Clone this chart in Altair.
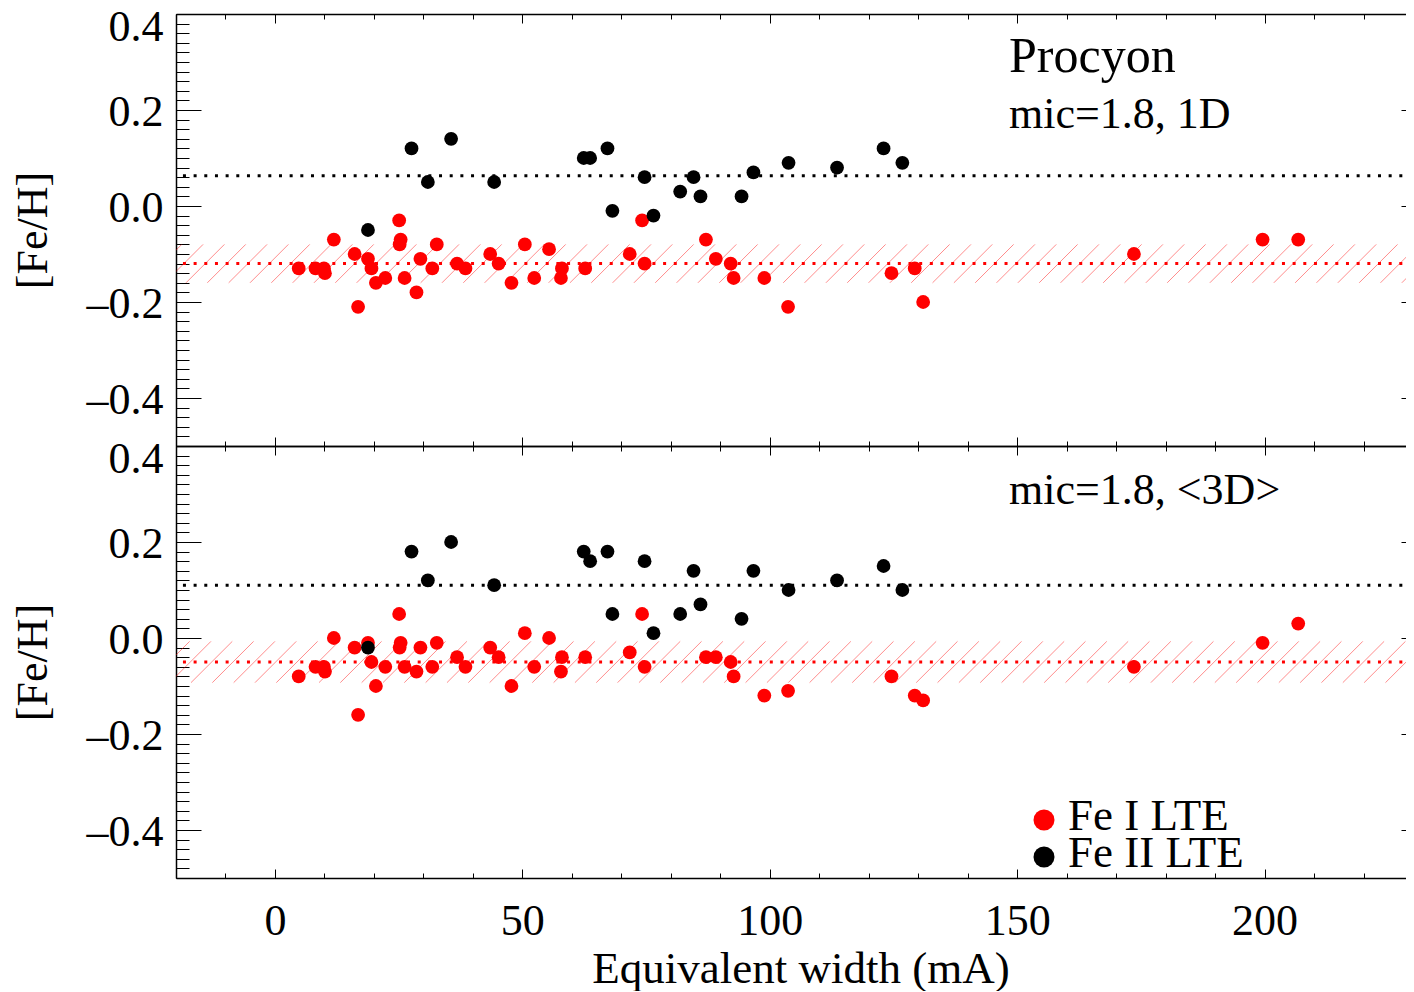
import altair as alt
import numpy as np
import pandas as pd

# ---------------- values ----------------
# Fe I lines: equivalent width (mA) and [Fe/H] for 1D and <3D>
fe1_ew = [4.8, 8.2, 9.9, 10.1, 11.9, 16.1, 16.8, 18.8, 19.5, 20.4, 22.3, 25.1, 25.4, 25.2,
          26.2, 28.6, 29.4, 31.8, 32.7, 36.8, 38.5, 43.5, 45.2, 47.8, 50.5, 52.4, 55.4,
          58.0, 57.8, 62.7, 71.7, 74.2, 74.7, 87.1, 89.1, 92.1, 92.7, 98.9, 103.7, 124.6,
          129.3, 131.0, 173.6, 199.6, 206.8]
fe1_1d = [-0.13, -0.13, -0.13, -0.14, -0.07, -0.10, -0.21, -0.11, -0.13, -0.16, -0.15, -0.03,
          -0.07, -0.08, -0.15, -0.18, -0.11, -0.13, -0.08, -0.12, -0.13, -0.10, -0.12, -0.16,
          -0.08, -0.15, -0.09, -0.13, -0.15, -0.13, -0.10, -0.03, -0.12, -0.07, -0.11, -0.12,
          -0.15, -0.15, -0.21, -0.14, -0.13, -0.20, -0.10, -0.07, -0.07]
fe1_3d = [-0.08, -0.06, -0.06, -0.07, 0.00, -0.02, -0.16, -0.01, -0.05, -0.10, -0.06, 0.05,
          -0.01, -0.02, -0.06, -0.07, -0.02, -0.06, -0.01, -0.04, -0.06, -0.02, -0.04, -0.10,
          0.01, -0.06, 0.00, -0.04, -0.07, -0.04, -0.03, 0.05, -0.06, -0.04, -0.04, -0.05,
          -0.08, -0.12, -0.11, -0.08, -0.12, -0.13, -0.06, -0.01, 0.03]

# Fe II lines
fe2_ew = [18.8, 27.6, 30.9, 35.6, 44.3, 62.4, 63.7, 67.2, 68.2, 74.7, 76.5, 81.9, 84.6,
          86.0, 94.3, 96.7, 103.8, 113.6, 123.0, 126.8]
fe2_1d = [-0.05, 0.12, 0.05, 0.14, 0.05, 0.10, 0.10, 0.12, -0.01, 0.06, -0.02, 0.03, 0.06,
          0.02, 0.02, 0.07, 0.09, 0.08, 0.12, 0.09]
fe2_3d = [-0.02, 0.18, 0.12, 0.20, 0.11, 0.18, 0.16, 0.18, 0.05, 0.16, 0.01, 0.05, 0.14,
          0.07, 0.04, 0.14, 0.10, 0.12, 0.15, 0.10]

fe1_mean = {"1d": -0.12, "3d": -0.05}
fe2_mean = {"1d": 0.063, "3d": 0.11}
fe1_sigma = {"1d": 0.04, "3d": 0.043}

x_major_ticks = [0, 50, 100, 150, 200]
y_major_ticks = [-0.4, -0.2, 0.0, 0.2, 0.4]
x_minor_ticks = list(range(-20, 231, 10))
y_minor_ticks = [round(-0.5 + 0.02 * i, 2) for i in range(46)]

# ---------------- layout / style ----------------
FONT = "Liberation Serif"
W, H = 1237, 432
XMIN, XMAX = -20, 230
YMIN, YMAX = -0.5, 0.4
PX_PER_X = W / (XMAX - XMIN)
PX_PER_Y = H / (YMAX - YMIN)
XS = alt.Scale(domain=[XMIN, XMAX], nice=False, zero=False)
YS = alt.Scale(domain=[YMIN, YMAX], nice=False, zero=False)


def tick_axis(orient, values, length):
    return alt.Axis(orient=orient, values=values, tickSize=length, offset=-length,
                    domain=False, labels=False, grid=False, ticks=True, title=None,
                    tickColor="black", tickWidth=1, minExtent=0, maxExtent=0)


def panel(fe1_vals, fe2_vals, key, bottom, hatch_phase_px, texts, legend):
    d1 = pd.DataFrame({"ew": fe1_ew, "feh": fe1_vals})
    d2 = pd.DataFrame({"ew": fe2_ew, "feh": fe2_vals})

    def host(xa, ya):
        return alt.Chart(d1).mark_point(opacity=0, size=1).encode(
            x=alt.X("ew:Q", scale=XS, axis=xa),
            y=alt.Y("feh:Q", scale=YS, axis=ya))

    x_lab = alt.Axis(orient="bottom", values=x_major_ticks, ticks=False, domain=True,
                     domainColor="black", domainWidth=1.5, grid=False, minExtent=0,
                     labels=bottom, labelFont=FONT, labelFontSize=44, labelColor="black",
                     labelPadding=21, labelFlush=False, labelOverlap=False,
                     title="Equivalent width (mA)" if bottom else None,
                     titleFont=FONT, titleFontSize=45, titleFontWeight="normal",
                     titleColor="black", titleY=104, titleX=W / 2 + 6,
                     titleBaseline="alphabetic")
    y_lab = alt.Axis(orient="left", values=y_major_ticks, ticks=False, domain=True,
                     domainColor="black", domainWidth=1.5, grid=False, minExtent=0,
                     labelFont=FONT, labelFontSize=44, labelColor="black",
                     labelPadding=13, labelFlush=False, labelOverlap=False,
                     labelExpr="datum.value < -0.001 ? '\u2013' + format(-datum.value, '.1f') : format(abs(datum.value), '.1f')",
                     labelOffset={"condition": {"test": "datum.value > 0.39", "value": 13.5},
                                  "value": 2.5},
                     title="[Fe/H]", titleFont=FONT, titleFontSize=44,
                     titleFontWeight="normal", titleColor="black", titleAngle=270,
                     titleX=-130, titleBaseline="alphabetic")
    x_top = alt.Axis(orient="top", domain=True, domainColor="black", domainWidth=1.5,
                     ticks=False, labels=False, grid=False, title=None,
                     minExtent=0, maxExtent=0)

    layers = [
        host(x_lab, y_lab),
        host(tick_axis("bottom", x_major_ticks, 9), tick_axis("left", y_major_ticks, 25)),
        host(tick_axis("bottom", x_minor_ticks, 5), tick_axis("left", y_minor_ticks, 13)),
        host(tick_axis("top", x_major_ticks, 9), tick_axis("right", y_major_ticks, 12)),
        host(tick_axis("top", x_minor_ticks, 5), tick_axis("right", y_minor_ticks, 2)),
        host(x_top, None),
    ]

    # hatched 1-sigma band around the Fe I mean
    lo = fe1_mean[key] - fe1_sigma[key]
    hi = fe1_mean[key] + fe1_sigma[key]
    step = 21.33 / PX_PER_X
    first = XMIN + (hatch_phase_px - 176) / PX_PER_X
    starts = [first + k * step for k in range(-80, 80)]
    starts = [s for s in starts if XMIN - 12 < s < XMAX + 1]
    hd = pd.DataFrame({"x0": starts, "lo": lo, "hi": hi})
    layers.append(
        alt.Chart(hd).mark_rule(color="#ff0000", strokeOpacity=0.45, strokeWidth=1,
                                clip=True, x2Offset=(hi - lo) * PX_PER_Y).encode(
            x=alt.X("x0:Q", scale=XS, axis=None), x2="x0:Q",
            y=alt.Y("lo:Q", scale=YS, axis=None), y2="hi:Q"))

    # mean lines (dotted)
    for val, col in [(fe1_mean[key], "#ff0000"), (fe2_mean[key], "#000000")]:
        layers.append(
            alt.Chart(pd.DataFrame({"m": [val]})).mark_rule(
                color=col, strokeWidth=3, strokeDash=[3, 7.67]).encode(
                y=alt.Y("m:Q", scale=YS, axis=None)))

    # points
    layers.append(alt.Chart(d1).mark_circle(size=190, color="#ff0000", opacity=1).encode(
        x=alt.X("ew:Q", scale=XS, axis=None), y=alt.Y("feh:Q", scale=YS, axis=None)))
    layers.append(alt.Chart(d2).mark_circle(size=190, color="#000000", opacity=1).encode(
        x=alt.X("ew:Q", scale=XS, axis=None), y=alt.Y("feh:Q", scale=YS, axis=None)))

    # annotations
    for txt, px, py, fs in texts:
        layers.append(alt.Chart(pd.DataFrame({"t": [txt]})).mark_text(
            align="left", baseline="alphabetic", font=FONT, fontSize=fs, color="black").encode(
            x=alt.value(px), y=alt.value(py), text="t:N"))
    for txt, col, px, py in legend:
        layers.append(alt.Chart(pd.DataFrame({"t": [txt]})).mark_circle(
            size=440, color=col, opacity=1).encode(x=alt.value(px), y=alt.value(py - 10)))
        layers.append(alt.Chart(pd.DataFrame({"t": [txt]})).mark_text(
            align="left", baseline="alphabetic", font=FONT, fontSize=45, color="black").encode(
            x=alt.value(px + 24), y=alt.value(py), text="t:N"))

    return alt.layer(*layers).resolve_axis(x="independent", y="independent").properties(
        width=W, height=H)


top = panel(fe1_1d, fe2_1d, "1d", False, 250,
            [("Procyon", 833, 58, 50), ("mic=1.8, 1D", 833, 114, 44)], [])
bot = panel(fe1_3d, fe2_3d, "3d", True, 255,
            [("mic=1.8, <3D>", 833, 58, 44)],
            [("Fe I LTE", "#ff0000", 868, 384), ("Fe II LTE", "#000000", 868, 421)])

chart = alt.vconcat(top, bot, spacing=0, bounds="flush").properties(
    padding={"left": 3, "top": -3, "right": -9, "bottom": 0}
).configure_view(stroke=None)

chart.save("out.html", embed_options={"renderer": "svg", "actions": False})
